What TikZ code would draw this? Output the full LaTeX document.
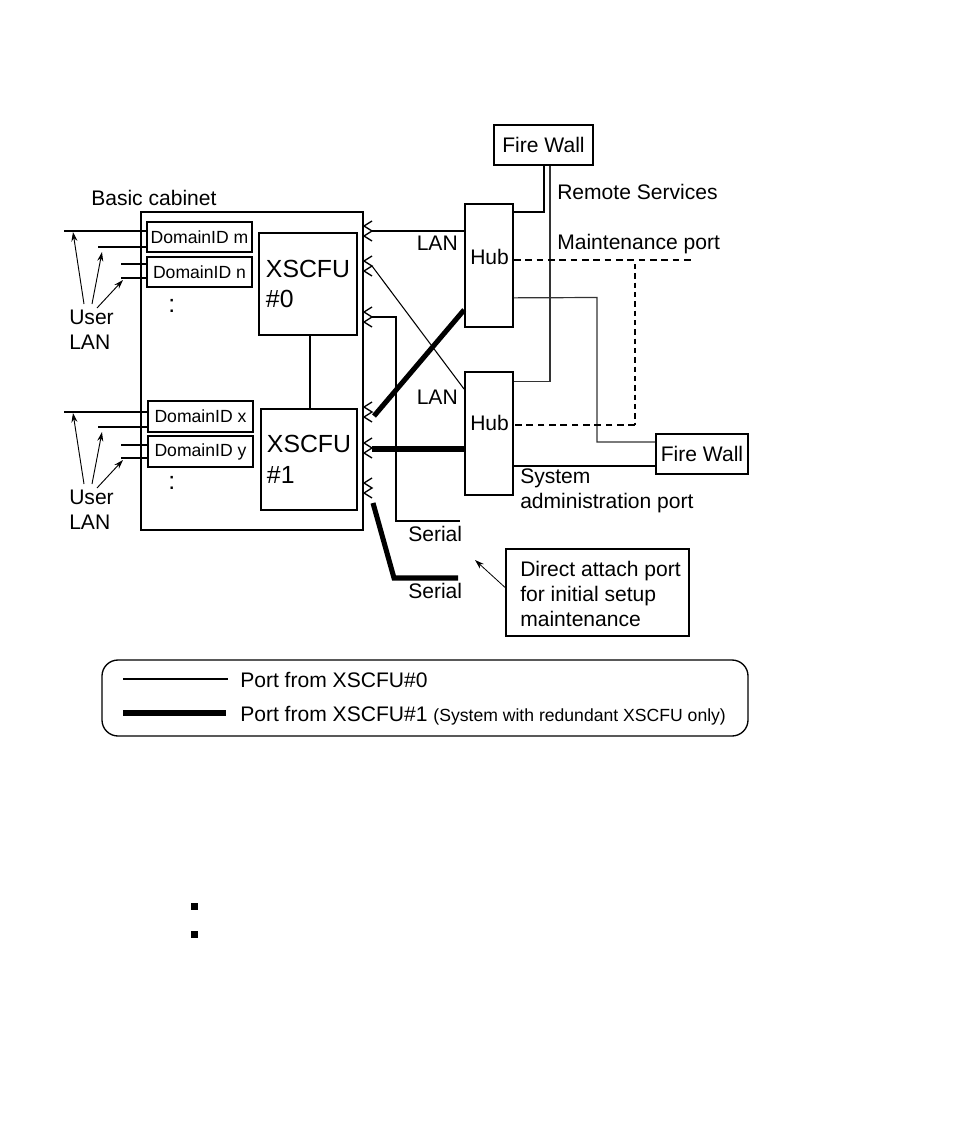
\documentclass[tikz,border=0pt]{standalone}
\usepackage{fontspec}
\setmainfont{Liberation Sans}
\usetikzlibrary{arrows.meta,calc}
\newcommand\fmain{\fontsize{15.8}{18.5}\selectfont}
\newcommand\fsml{\fontsize{13.2}{16}\selectfont}
\newcommand\fbig{\fontsize{18.6}{23}\selectfont}
\begin{document}
\begin{tikzpicture}[x=0.75pt,y=-0.75pt,
  boxn/.style={draw, line width=1.3pt, inner sep=0pt, font=\fmain},
  dombox/.style={draw, line width=1.3pt, inner sep=0pt, font=\fsml, minimum width=78.75pt, minimum height=22.5pt},
  hubbox/.style={draw, line width=1.3pt, inner sep=0pt, minimum width=36pt, minimum height=92.25pt},
  xbox/.style={draw, line width=1.3pt, inner sep=0pt, font=\fbig, align=left},
  lbl/.style={inner sep=0pt, font=\fmain, anchor=west, align=left},
  wire/.style={line width=0.8pt},
  graywire/.style={line width=0.9pt, black!80},
  medwire/.style={line width=1.5pt},
  fatwire/.style={line width=3.8pt},
  dashwire/.style={line width=0.8pt, dash pattern=on 5pt off 3.5pt},
  dashwire2/.style={line width=1.3pt, dash pattern=on 4pt off 3pt},
  usrarrow/.style={line width=0.7pt, -{Stealth[length=7pt,width=4.5pt]}},
  chev/.pic={\draw[line width=1pt] (8,-10)--(0,-5)--(8,0)--(0,5)--(8,10);}
]
\useasboundingbox (0,0) rectangle (954,1145);

% boxes
\node[boxn, minimum width=74.25pt, minimum height=30pt] (fw1) at (543.5,145) {Fire Wall};
\node[boxn, minimum width=166.5pt, minimum height=238.5pt] (cab) at (252,371) {};
\node[dombox] (dm) at (199.5,237) {DomainID m};
\node[dombox] (dn) at (199.5,272) {DomainID n};
\node[dombox, minimum height=23.25pt] (dx) at (200.5,416.5) {DomainID x};
\node[dombox, minimum height=23.25pt] (dy) at (200.5,451.5) {DomainID y};
\node[xbox, minimum width=73.5pt, minimum height=76.5pt] (x0) at (308,284) {XSCFU\\\#0};
\node[xbox, minimum width=72pt, minimum height=75.75pt] (x1) at (309,459.5) {XSCFU\\\#1};
\node[hubbox] (hub1) at (489,265.5) {};
\node[hubbox] (hub2) at (489,433.5) {};
\node[boxn, minimum width=69pt, minimum height=30pt] (fw2) at (702,454) {Fire Wall};
\node[boxn, minimum width=137.25pt, minimum height=65.25pt] (direct) at (597.5,592.5) {};

% labels
\node[lbl] (cablbl) at (91,198) {Basic cabinet};
\node[lbl] (ulan1) at (69,330) {User\\LAN};
\node[lbl] (ulan2) at (69,510) {User\\LAN};
\node[lbl, font=\fbig] (dots1) at (168,306) {:};
\node[lbl, font=\fbig] (dots2) at (168,483) {:};
\node[lbl, anchor=east] (lan1) at (458,243) {LAN};
\node[lbl, anchor=east] (lan2) at (458,397) {LAN};
\node[lbl] (hublbl1) at (470,257) {Hub};
\node[lbl] (hublbl2) at (470,423) {Hub};
\node[lbl] (remote) at (557,192) {Remote Services};
\node[lbl] (maint) at (557,244) {Maintenance port};
\node[lbl] (sysadm) at (520,491) {System\\administration port};
\node[lbl] (ser1) at (408,534) {Serial};
\node[lbl] (ser2) at (408,591) {Serial};
\node[lbl, align=left] (dirtxt) at (520,594) {\fontsize{15.8}{19.2}\selectfont Direct attach port\\for initial setup\\maintenance};

% user LAN lines
\coordinate (um1) at (64,231);
\coordinate (um2) at (98,247);
\coordinate (un1) at (121,264);
\coordinate (un2) at (121,278);
\draw[wire] (um1) -- (um1 -| dm.west);
\draw[medwire] (um2) -- (um2 -| dm.west);
\draw[wire] (un1) -- (un1 -| dn.west);
\draw[medwire] (un2) -- (un2 -| dn.west);
\coordinate (ux1) at (64,412);
\coordinate (ux2) at (98,427);
\coordinate (uy1) at (121,445);
\coordinate (uy2) at (121,458);
\draw[medwire] (ux1) -- (ux1 -| dx.west);
\draw[wire] (ux2) -- (ux2 -| dx.west);
\draw[medwire] (uy1) -- (uy1 -| dy.west);
\draw[medwire] (uy2) -- (uy2 -| dy.west);

% user LAN arrows
\draw[usrarrow] (84,304) -- ($(um1)+(9,1)$);
\draw[usrarrow] (92,304) -- ($(um2)+(4,5)$);
\draw[usrarrow] (97,308) -- ($(un2)+(2,2)$);
\draw[usrarrow] (84,484) -- ($(ux1)+(9,1)$);
\draw[usrarrow] (92,484) -- ($(ux2)+(4,5)$);
\draw[usrarrow] (97,488) -- ($(uy2)+(2,2)$);

% XSCFU link
\draw[wire] (x0.south -| 310,0) -- (x1.north -| 310,0);

% ports
\foreach \c in {231,266,317,412,448,488} { \pic at (364,\c) {chev}; }
\coordinate (p1) at (372,231);
\coordinate (p2) at (372,266);
\coordinate (p3) at (372,317);
\coordinate (p4) at (374,416);
\coordinate (p5) at (372,449);
\coordinate (p6) at (373,503);
\coordinate (s1) at (460,521);
\coordinate (s2) at (458,578);

\draw[wire] (p1) -- (p1 -| hub1.west);
\draw[wire] (p2) -- ($(hub2.north west)+(0,18)$);
\draw[wire] (p3) -- (396,317) |- (s1);
\draw[fatwire] (p4) -- ($(hub1.south west)+(0,-18)$);
\draw[fatwire] (p5) -- (p5 -| hub2.west);
\draw[fatwire] (p6) -- (394,578) -- (s2);

% right side connections
\coordinate (fw2a) at ($(fw2.west)+(0,-12)$);
\coordinate (fw2b) at ($(fw2.west)+(0,12)$);
\coordinate (dmid) at (635,425);
\draw[medwire] ($(hub1.north east)+(0,9)$) -| (fw1.south);
\draw[graywire] ($(fw1.south)+(6.5,0)$) |- ($(hub2.north east)+(0,10)$);
\draw[graywire] ($(hub1.south east)+(0,-30)$) -- (597,297.5) |- (fw2a);
\draw[medwire] (fw2b) -- (fw2b -| hub2.east);
\draw[dashwire] ($(hub1.east)+(0,-5.5)$) -- (692,260);
\draw[dashwire2] (635,264) -- (dmid);
\draw[dashwire] (dmid) -- (dmid -| hub2.east);

% direct attach arrow
\draw[usrarrow, line width=0.6pt] ($(direct.west)+(0,-5)$) -- (475,560);

% legend
\node[draw, line width=1pt, rounded corners=12pt, minimum width=484.5pt, minimum height=57pt, inner sep=0pt] (legend) at (425,698) {};
\coordinate (lg1a) at (123,679);
\coordinate (lg1b) at (228,679);
\coordinate (lg2a) at (123,713);
\coordinate (lg2b) at (226,713);
\draw[wire] (lg1a) -- (lg1b);
\draw[line width=4pt] (lg2a) -- (lg2b);
\node[lbl] (lgt1) at (240,680) {Port from XSCFU\#0};
\node[lbl] (lgt2) at (240,716) {Port from XSCFU\#1 {\fsml (System with redundant XSCFU only)}};

% bullets
\fill (191,903) rectangle (198,910);
\fill (191,931) rectangle (198,938);
\end{tikzpicture}
\end{document}
